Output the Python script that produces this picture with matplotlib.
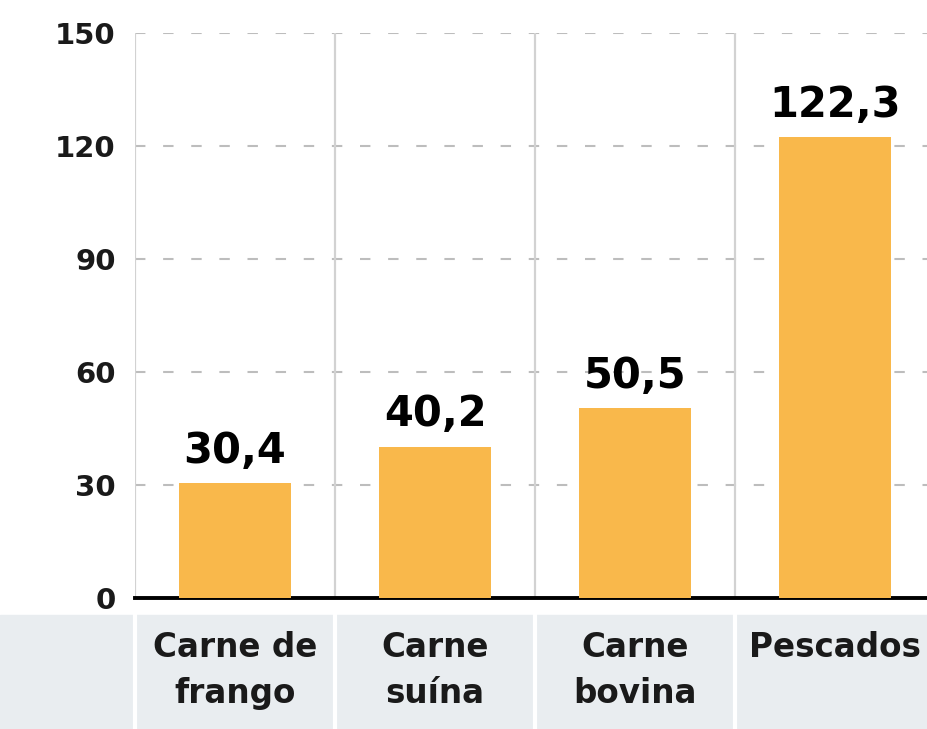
import matplotlib
matplotlib.use("Agg")
import matplotlib.pyplot as plt
import matplotlib.transforms as mtransforms

categories = ["Carne de\nfrango", "Carne\nsuína", "Carne\nbovina", "Pescados"]
values = [30.4, 40.2, 50.5, 122.3]
value_labels = ["30,4", "40,2", "50,5", "122,3"]
yticks = [0, 30, 60, 90, 120, 150]

bar_color = "#F9B84B"
panel_gray = "#E9EDF0"

fig = plt.figure(figsize=(9.27, 7.29), dpi=100)
fig.patch.set_facecolor("white")

# gray strip behind the category labels
fig.patches.append(plt.Rectangle((0, 0), 1, (729 - 615) / 729, transform=fig.transFigure,
                                 color=panel_gray, zorder=-1))

ax = fig.add_axes([135 / 927, 131 / 729, 800 / 927, 565 / 729])
ax.set_facecolor("none")
x = range(len(values))
ax.bar(x, values, width=0.56, color=bar_color, zorder=3)

ax.set_xlim(-0.5, 3.5)
ax.set_ylim(0, 150)

# dashed horizontal grid
for yv in yticks[1:]:
    ax.axhline(yv, color="#BDBDBD", lw=1.5, ls=(0, (5, 8.5)), zorder=1)

# vertical category separators
for b in [-0.5, 0.5, 1.5, 2.5]:
    ax.axvline(b, ymin=0, ymax=1, color="#D2D2D2", lw=1.6, zorder=1)
    ax.axvline(b, ymin=-0.26, ymax=-0.03, color="white", lw=3, clip_on=False, zorder=2)

ax.axhline(0, color="black", lw=2.8, zorder=2, clip_on=False)

for s in ax.spines.values():
    s.set_visible(False)
ax.set_xticks([])
ax.set_yticks(yticks)
ax.set_yticklabels([str(t) for t in yticks], fontsize=21, fontweight="bold", color="#1A1A1A")
ax.tick_params(axis="y", length=0, pad=14)

for xi, v, lab in zip(x, values, value_labels):
    ax.annotate(lab, (xi, v), xytext=(0, 8), textcoords="offset points",
                ha="center", va="bottom", fontsize=30, fontweight="bold", color="black")

trans = mtransforms.blended_transform_factory(ax.transData, ax.transAxes)
for xi, c in zip(x, categories):
    ax.text(xi, -0.058, c, transform=trans, ha="center", va="top",
            fontsize=23.5, fontweight="bold", color="#1A1A1A", linespacing=1.5)

fig.savefig("out.png", dpi=100)
